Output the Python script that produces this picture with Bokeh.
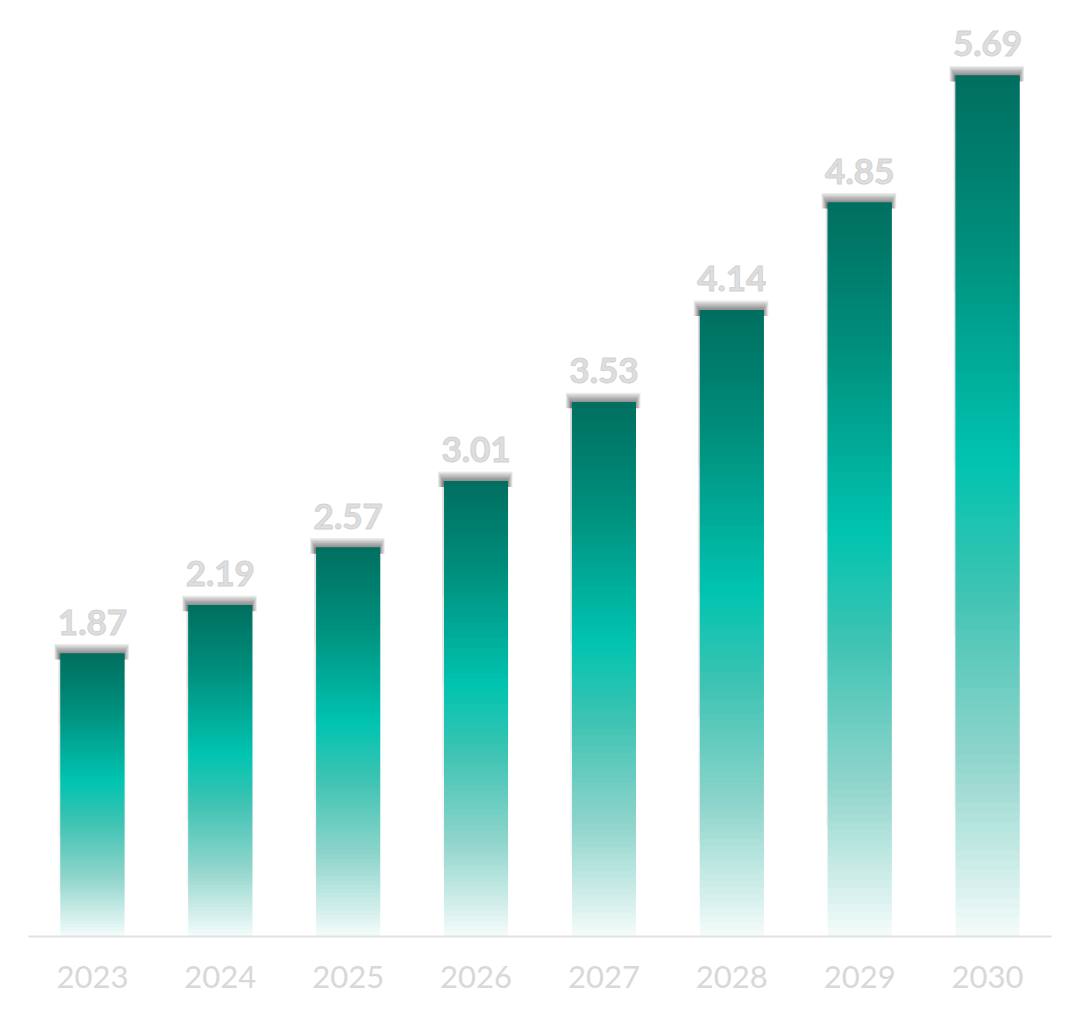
from bokeh.plotting import figure
from bokeh.models import ColumnDataSource, FactorRange, Range1d
from bokeh.core.properties import value
from bokeh.transform import dodge
from bokeh.embed import file_html
from bokeh.resources import INLINE

years = ["2023", "2024", "2025", "2026", "2027", "2028", "2029", "2030"]
values = [1.87, 2.19, 2.57, 3.01, 3.53, 4.14, 4.85, 5.69]
labels = ["1.87", "2.19", "2.57", "3.01", "3.53", "4.14", "4.85", "5.69"]

def hex2rgb(h):
    h = h.lstrip("#")
    return tuple(int(h[i:i + 2], 16) for i in (0, 2, 4))

stops = [(0.0, "#f5fcfb"), (0.2, "#93d6cd"), (0.4, "#3fc3b3"), (0.55, "#00c4b0"),
         (0.8, "#008f7d"), (1.0, "#006e5f")]

def color_at(f):
    for (f0, c0), (f1, c1) in zip(stops[:-1], stops[1:]):
        if f0 <= f <= f1:
            t = (f - f0) / (f1 - f0)
            a, b = hex2rgb(c0), hex2rgb(c1)
            r = [round(a[i] + (b[i] - a[i]) * t) for i in range(3)]
            return "#%02x%02x%02x" % tuple(r)
    return stops[-1][1]

N = 90
sx, sb, st, sc = [], [], [], []
for y, v in zip(years, values):
    for k in range(N):
        sx.append(y)
        sb.append(v * k / N)
        st.append(min(v, v * (k + 2.0) / N))
        sc.append(color_at((k + 0.5) / N))
seg = ColumnDataSource(dict(x=sx, bottom=sb, top=st, color=sc))

p = figure(width=1064, height=996, x_range=FactorRange(*years), y_range=Range1d(0, 6.0),
           output_backend="svg", toolbar_location=None,
           min_border_left=28, min_border_right=13, min_border_top=28, min_border_bottom=60)
p.outline_line_color = None
p.background_fill_color = "white"
p.border_fill_color = "white"
p.grid.visible = False
p.yaxis.visible = False

src = ColumnDataSource(dict(x=years, v=values, lab=labels))

# left side shadow strip, fading downwards
for frac in (0.15, 0.35, 0.55, 0.75):
    strip = ColumnDataSource(dict(x=years, b=[v * frac for v in values], t=values))
    p.vbar(x=dodge("x", -0.016, range=p.x_range), width=0.5, bottom="b", top="t",
           source=strip, fill_color="black", fill_alpha=0.03, line_color=None)

# top shadow (blur imitation)
for j in range(1, 8):
    sh = ColumnDataSource(dict(x=years, b=[v - 0.04 for v in values],
                               t=[v + 0.009 * j for v in values]))
    p.vbar(x=dodge("x", -0.006, range=p.x_range), width=0.5 + 0.012 * j,
           bottom="b", top="t", source=sh,
           fill_color="black", fill_alpha=0.075, line_color=None)

p.vbar(x="x", width=0.5, bottom="bottom", top="top", source=seg,
       fill_color="color", line_color=None)

p.text(x="x", y="v", text="lab", source=src, y_offset=-19,
       text_align="center", text_baseline="bottom",
       text_font=value("Lato"), text_font_style="bold", text_font_size="35px",
       text_color="#dedede", text_outline_color="#d2d2d2")

ax = p.xaxis[0]
ax.axis_line_color = "#e2e2e2"
ax.axis_line_width = 2
ax.major_tick_line_color = None
ax.minor_tick_line_color = None
ax.major_label_text_font = "Lato"
ax.major_label_text_font_size = "31px"
ax.major_label_text_color = "#d8d8d8"
ax.major_label_standoff = 23

open("out.html", "w").write(file_html(p, INLINE))
